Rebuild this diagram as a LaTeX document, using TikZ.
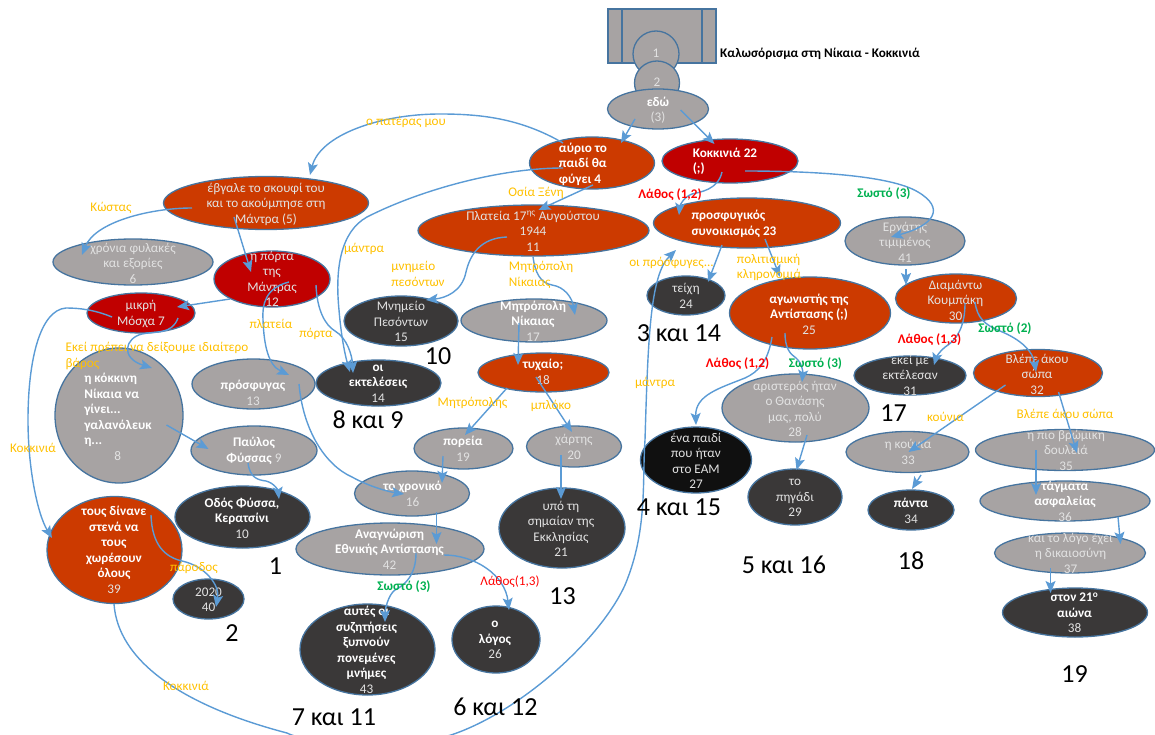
\documentclass[tikz,border=0pt]{standalone}
\usepackage{fontspec}
\setmainfont{Carlito}
\usetikzlibrary{shapes.geometric,arrows.meta,calc}
\definecolor{cOrange}{HTML}{CC3A00}
\definecolor{cRed}{HTML}{C00000}
\definecolor{cGrey}{HTML}{A7A3A3}
\definecolor{cDark}{HTML}{3A3838}
\definecolor{cBlack}{HTML}{101010}
\definecolor{cEdge}{HTML}{46749F}
\definecolor{cConn}{HTML}{5B9BD5}
\definecolor{cLabel}{HTML}{FFC000}
\definecolor{cGood}{HTML}{00B050}
\definecolor{cBad}{HTML}{FF0000}
\definecolor{cSoft}{HTML}{E2E2E2}
\newcommand\B[1]{{\bfseries\color{white}#1}}
\newcommand\ov[9]{%
  \node[oval,#6,minimum width=#4pt,minimum height=#5pt] (#1) at (#2,#3) {};
  \node[ovtext,tal] (#1t) at (#7,#8) {#9};}
\newcommand\ovl[9]{%
  \tikzset{tal/.style={align=left}}%
  \ov{#1}{#2}{#3}{#4}{#5}{#6}{#7}{#8}{#9}%
  \tikzset{tal/.style={align=center}}}
\newcommand\lab[4]{\node[lbl] (#1) at (#2,#3) {#4};}
\newcommand\labg[4]{\node[lbl,text=cGood,font=\fontsize{13.2}{15.5}\selectfont\bfseries] (#1) at (#2,#3) {#4};}
\newcommand\labr[4]{\node[lbl,text=cBad,font=\fontsize{13.2}{15.5}\selectfont\bfseries] (#1) at (#2,#3) {#4};}
\newcommand\bignr[4]{\node[bignum] (#1) at (#2,#3) {#4};}
\tikzset{
  oval/.style={shape=ellipse,draw=cEdge,line width=1.3pt,inner sep=0pt,outer sep=0pt},
  fGrey/.style={fill=cGrey},
  fOrange/.style={fill=cOrange},
  fRed/.style={fill=cRed},
  fDark/.style={fill=cDark},
  fBlack/.style={fill=cBlack},
  tal/.style={align=center},
  ovtext/.style={text=cSoft,font=\fontsize{13.2}{15.5}\selectfont,inner sep=0pt},
  lbl/.style={text=cLabel,font=\fontsize{13.2}{15.5}\selectfont,inner sep=0pt,align=left},
  bignum/.style={text=black,font=\fontsize{26}{30}\selectfont,inner sep=0pt},
  conn/.style={draw=cConn,line width=1.4pt,-{Stealth[length=12pt,width=10pt,inset=2.5pt]}},
}
\begin{document}
\begin{tikzpicture}[x=1pt,y=-1pt]
\useasboundingbox (0,0) rectangle (1155,735);
% top block
\node[draw=cEdge,line width=1.3pt,fill=cGrey,minimum width=108pt,minimum height=54pt,inner sep=0pt,outer sep=0pt] (n0) at (662,36) {};
\draw[draw=cEdge,line width=1.3pt] ($(n0.north west)+(14,0)$) -- ($(n0.south west)+(14,0)$);
\draw[draw=cEdge,line width=1.3pt] ($(n0.north east)+(-14,0)$) -- ($(n0.south east)+(-14,0)$);
\node[font=\fontsize{13.2}{15.5}\selectfont\bfseries,text=black,anchor=west,inner sep=0pt] (title) at (720,54) {Καλωσόρισμα στη Νίκαια - Κοκκινιά};
\ov{n1}{656}{54}{46}{46}{fGrey}{656}{53}{1}
\ov{n2}{657}{83}{45}{44}{fGrey}{657}{82}{2}
\ov{n3}{658}{109}{101}{40}{fGrey}{658}{110}{\B{εδώ}\\(3)}
% upper row
\ovl{n4}{592}{163}{125}{52}{fOrange}{583}{164}{\B{αύριο το}\\\B{παιδί θα}\\\B{φύγει 4}}
\ovl{n22}{730}{161}{136}{44}{fRed}{725}{161.5}{\B{Κοκκινιά 22}\\\B{(;)}}
\ov{n5}{266}{203}{205}{53}{fOrange}{266}{204}{έβγαλε το σκουφί του\\και το ακούμπησε στη\\Μάντρα (5)}
\ov{n11}{533.5}{230.5}{231}{51}{fOrange}{533}{231}{Πλατεία 17\textsuperscript{ης} Αυγούστου\\1944\\11}
\ovl{n23}{747}{223}{187}{50}{fOrange}{734}{224}{\B{προσφυγικός}\\\B{συνοικισμός 23}}
\ov{n41}{905}{241}{120}{48}{fGrey}{905}{242}{Εργάτης\\τιμιμένος\\41}
\ov{n6}{133}{262}{160}{46}{fGrey}{133}{263}{χρόνια φυλακές\\και εξορίες\\6}
\ov{n12}{272}{279}{116}{56}{fRed}{272}{279}{η πόρτα\\της\\Μάντρας\\12}
\ov{n7}{141}{313}{108}{40}{fRed}{141}{314}{μικρή\\Μόσχα 7}
\ov{n15}{401}{321}{114}{50}{fDark}{401}{321.5}{Μνημείο\\Πεσόντων\\15}
\ov{n17}{534}{320.5}{146}{43}{fGrey}{533}{321}{\B{Μητρόπολη}\\\B{Νίκαιας}\\17}
\ov{n24}{686}{295.5}{78}{39}{fDark}{686}{296}{τείχη\\24}
\ov{n25}{810}{313}{161}{72}{fOrange}{809}{314}{\B{αγωνιστής της}\\\B{Αντίστασης (;)}\\25}
\ov{n30}{956}{298.5}{121}{49}{fOrange}{955.5}{300}{Διαμάντω\\Κουμπάκη\\30}
% middle
\ovl{n8}{119}{415.5}{128}{135}{fGrey}{118}{417}{\B{η κόκκινη}\\\B{Νίκαια να}\\\B{γίνει...}\\\B{γαλανόλευκ}\\\B{η...}\\\hspace*{30pt}8}
\ov{n13}{253.5}{384}{123}{50}{fGrey}{253}{393}{\B{πρόσφυγας}\\13}
\ov{n14}{378.5}{383}{125}{46}{fDark}{378}{383.5}{\B{οι}\\\B{εκτελέσεις}\\14}
\ov{n18}{543.5}{372.5}{131}{39}{fOrange}{543}{372}{\B{τυχαίο;}\\18}
\ov{n31}{910}{375.5}{112}{39}{fDark}{910}{375}{εκεί με\\εκτέλεσαν\\31}
\ov{n32}{1038}{373}{129}{47}{fOrange}{1037}{374}{Βλέπε άκου\\σώπα\\32}
\ov{n28}{795.5}{408}{147}{68}{fGrey}{795}{409}{αριστερός ήταν\\ο Θανάσης\\μας, πολύ\\28}
\ov{n19}{463.5}{448.5}{99}{41}{fGrey}{463}{449}{\B{πορεία}\\19}
\ov{n20}{574}{446.5}{95}{41}{fGrey}{574}{447}{χάρτης\\20}
\ov{n9}{254}{450.5}{126}{49}{fGrey}{254}{451}{\B{Παύλος}\\\B{Φύσσας} 9}
\ov{n33}{907.5}{452}{123}{41}{fGrey}{908}{452}{η κούνια\\33}
\ov{n35}{1065}{450}{179}{41}{fGrey}{1066}{450}{η πιο βρώμικη\\δουλειά\\35}
\ov{n27}{696}{460}{111}{66}{fBlack}{696}{461}{ένα παιδί\\που ήταν\\στο ΕΑΜ\\27}
\ov{n16}{412}{493.5}{115}{45}{fGrey}{412.5}{494}{\B{το χρονικό}\\16}
\ov{n29}{795}{497}{94}{56}{fDark}{795}{498}{το\\πηγάδι\\29}
\ov{n36}{1065}{501}{170}{40}{fGrey}{1065}{501}{\B{τάγματα}\\\B{ασφαλείας}\\36}
\ov{n34}{911}{510}{86}{40}{fDark}{911}{511}{\B{πάντα}\\34}
\ov{n10}{242.5}{517}{135}{62}{fDark}{242}{518}{\B{Οδός Φύσσα,}\\\B{Κερατσίνι}\\10}
\ov{n21}{562}{528}{126}{80}{fDark}{561}{529}{υπό τη\\σημαίαν της\\Εκκλησίας\\21}
\ov{n42}{390}{549}{188}{52}{fGrey}{389.5}{549}{\B{Αναγνώριση}\\\B{Εθνικής Αντίστασης}\\42}
\ov{n39}{114.5}{550}{135}{107}{fOrange}{114}{550}{\B{τους δίνανε}\\\B{στενά να}\\\B{τους}\\\B{χωρέσουν}\\\B{όλους}\\39}
\ov{n37}{1070}{553}{151}{40}{fGrey}{1070.5}{553}{και το λόγο έχει\\η δικαιοσύνη\\37}
\ov{n40}{208.5}{599}{71}{40}{fDark}{208.5}{600}{2020\\40}
\ov{n38}{1075}{612.5}{145}{49}{fDark}{1074.5}{613}{\B{στον 21\textsuperscript{ο}}\\\B{αιώνα}\\38}
\ov{n26}{496}{639.5}{88}{67}{fDark}{495}{640}{\B{ο}\\\B{λόγος}\\26}
\ov{n43}{367.5}{649.5}{135}{91}{fDark}{366.5}{650}{\B{αυτές οι}\\\B{συζητήσεις}\\\B{ξυπνούν}\\\B{πονεμένες}\\\B{μνήμες}\\43}
% connectors
\draw[conn] ($(n3)+(-23,10)$) -- ($(n4)+(29,-20)$);
\draw[conn] ($(n3)+(22.5,1)$) -- ($(n22)+(-15.5,-17)$);
\draw[conn] ($(n4)+(-29,-20)$) .. controls (520,118) and (480,114) .. (440,114) .. controls (380,114) and (320,135) .. ($(n5)+(44,-28)$);
\draw[conn] ($(n4)+(-29,5)$) .. controls (500,168) and (420,190) .. (367,217) .. controls (340,232) and (335,270) .. (339,310) .. controls (341,335) and (345,355) .. ($(n14)+(-28.5,-11)$);
\draw[conn] ($(n22)+(-8,11)$) .. controls (718,190) and (700,192) .. (692,194) .. controls (684,197) and (680,205) .. ($(n23)+(-68,-8)$);
\draw[conn] ($(n22)+(15,10)$) .. controls (810,171) and (890,175) .. (918,192) .. controls (945,208) and (935,225) .. ($(n41)+(-14,-4)$);
\draw[conn] ($(n4)+(1,22)$) -- ($(n11)+(5,-20.5)$);
\draw[conn] ($(n11)+(-26.5,6.5)$) .. controls (480,238) and (470,255) .. (466,272) .. controls (462,292) and (445,298) .. ($(n15)+(25,-21)$);
\draw[conn] ($(n11)+(-.5,26.5)$) .. controls (535,272) and (540,283) .. (552,285) .. controls (565,287) and (572,298) .. ($(n17)+(41,-5.5)$);
\draw[conn] ($(n23)+(-25,22)$) -- ($(n24)+(22,-13.5)$);
\draw[conn] ($(n23)+(18,16)$) -- ($(n25)+(-30,-36)$);
\draw[conn] ($(n41)+(1,28)$) -- ($(n30)+(-50,-13.5)$);
\draw[conn] ($(n30)+(9,4.5)$) .. controls (965,325) and (958,338) .. (948,345) .. controls (940,350) and (936,358) .. ($(n31)+(24,-10.5)$);
\draw[conn] ($(n30)+(19,3.5)$) .. controls (977,318) and (985,325) .. (1000,331) .. controls (1022,340) and (1033,352) .. ($(n32)+(-2,-1)$);
\draw[conn] ($(n25)+(-38,24)$) .. controls (768,362) and (758,372) .. (745,378) .. controls (720,388) and (695,395) .. ($(n27)+(0,-35)$);
\draw[conn] ($(n25)+(-25,20)$) .. controls (785,348) and (790,354) .. (796,358) .. controls (802,363) and (803,372) .. ($(n28)+(6.5,-26)$);
\draw[conn] ($(n28)+(11.5,27)$) -- ($(n29)+(1.5,-27)$);
\draw[conn] ($(n32)+(-32.5,12)$) -- ($(n33)+(1,0)$);
\draw[conn] ($(n32)+(20.5,19)$) -- ($(n35)+(12,3)$);
\draw[conn] ($(n33)+(13.5,23)$) -- ($(n34)+(1,-21)$);
\draw[conn] ($(n35)+(-29,0)$) -- ($(n36)+(-29,-6)$);
\draw[conn] ($(n36)+(53,16)$) -- ($(n37)+(50.5,-9)$);
\draw[conn] ($(n37)+(-19.5,15)$) -- ($(n38)+(-24.5,-19.5)$);
\draw[conn] ($(n39)+(-.5,54)$) .. controls (118,660) and (180,705) .. (287,733) .. controls (310,745) and (400,750) .. (451,735) .. controls (520,712) and (600,640) .. (625,585) .. controls (648,530) and (642,480) .. (645,440) .. controls (648,340) and (650,275) .. ($(n23)+(-71,27)$);
\draw[conn] ($(n5)+(-74,5)$) .. controls (150,208) and (95,222) .. ($(n6)+(-51,-7)$);
\draw[conn] ($(n5)+(-32,14)$) -- ($(n12)+(-21,-7)$);
\draw[conn] ($(n12)+(-42,20)$) -- ($(n7)+(36,-6)$);
\draw[conn] ($(n12)+(17,3)$) .. controls (265,288) and (262,305) .. (263,320) .. controls (264,345) and (268,365) .. ($(n13)+(35.5,-9)$);
\draw[conn] ($(n12)+(44,6)$) .. controls (317,310) and (325,325) .. (335,331) .. controls (347,338) and (352,355) .. ($(n14)+(-25.5,-10)$);
\draw[conn] ($(n7)+(-29,4)$) .. controls (95,310) and (80,308) .. (66,308) .. controls (40,310) and (28,360) .. (28,420) .. controls (28,470) and (38,515) .. ($(n39)+(-62.5,-12)$);
\draw[conn] ($(n7)+(37,5)$) .. controls (172,335) and (155,331) .. (142,334) .. controls (125,338) and (120,358) .. ($(n8)+(33,-47.5)$);
\draw[conn] ($(n8)+(47.5,9.5)$) -- ($(n9)+(-45.5,-1.5)$);
\draw[conn] ($(n9)+(-6,12.5)$) .. controls (250,478) and (258,480) .. (266,481) .. controls (274,483) and (278,490) .. ($(n10)+(36.5,-18)$);
\draw[conn] ($(n13)+(45.5,0)$) .. controls (303,430) and (325,465) .. (352,477) .. controls (370,487) and (390,492) .. ($(n16)+(-8,.5)$);
\draw[conn] ($(n19)+(-20.5,7.5)$) -- ($(n16)+(30,-10.5)$);
\draw[conn] ($(n16)+(24.5,18.5)$) -- ($(n42)+(46.5,-5)$);
\draw[conn] ($(n17)+(-15,2.5)$) -- ($(n18)+(-25.5,-7.5)$);
\draw[conn] ($(n18)+(-36.5,15.5)$) -- ($(n19)+(1.5,-13.5)$);
\draw[conn] ($(n18)+(-7.5,4.5)$) -- ($(n20)+(-2,-14.5)$);
\draw[conn] ($(n20)+(-13,8.5)$) -- ($(n21)+(-1,-29)$);
\draw[conn] ($(n42)+(26,4)$) .. controls (416,575) and (405,585) .. (395,590) .. controls (388,595) and (385,610) .. ($(n43)+(17.5,-27.5)$);
\draw[conn] ($(n42)+(54,6)$) .. controls (475,555) and (505,575) .. ($(n26)+(13,-29.5)$);
\draw[conn] ($(n39)+(36.5,-35)$) .. controls (152,545) and (165,557) .. (182,561) .. controls (205,566) and (220,585) .. ($(n40)+(7.5,8)$);
% connector labels
\lab{l1}{406}{122}{ο πατέρας μου}
\lab{l2}{111}{208}{Κώστας}
\lab{l3}{364}{249}{μάντρα}
\lab{l4}{418}{274}{μνημείο\\πεσόντων}
\lab{l5}{271}{324}{πλατεία}
\lab{l6}{316}{334}{πόρτα}
\lab{l7}{157}{356}{Εκεί πρέπει να δείξουμε ιδιαίτερο\\βάρος}
\lab{l8}{33}{448}{Κοκκινιά}
\lab{l9}{194}{568}{πάροδος}
\lab{l10}{186}{686}{Κοκκινιά}
\lab{l11}{536}{193}{Οσία Ξένη}
\lab{l12}{541}{275}{Μητρόπολη\\Νίκαιας}
\lab{l13}{671.5}{263}{οι πρόσφυγες...}
\lab{l14}{769}{267.5}{πολιτισμική\\κληρονομιά}
\lab{l15}{655}{383}{μάντρα}
\lab{l16}{945.5}{417}{κούνια}
\lab{l17}{1065}{414}{Βλέπε άκου σώπα}
\lab{l18}{472.5}{403}{Μητρόπολης}
\lab{l19}{551}{406}{μπλόκο}
\labg{g1}{404}{587}{Σωστό (3)}
\labg{g2}{884}{194}{Σωστό (3)}
\labg{g3}{1005}{329}{Σωστό (2)}
\labg{g4}{815.5}{364}{Σωστό (3)}
\labr{r1}{670}{195}{Λάθος (1,2)}
\labr{r2}{929.5}{340}{Λάθος (1,3)}
\labr{r3}{737.5}{364}{Λάθος (1,2)}
\node[lbl,text=cBad] (r4) at (510,582) {Λάθος(1,3)};
% large numbers
\bignr{b1}{275.5}{566}{1}
\bignr{b2}{232}{633}{2}
\bignr{b3}{334}{717}{7 και 11}
\bignr{b4}{495.5}{707}{6 και 12}
\bignr{b5}{562.5}{596}{13}
\bignr{b6}{368}{420}{8 και 9}
\bignr{b7}{438}{356}{10}
\bignr{b8}{679}{333}{3 και 14}
\bignr{b9}{679}{507}{4 και 15}
\bignr{b10}{784}{565}{5 και 16}
\bignr{b11}{893.5}{413}{17}
\bignr{b12}{911}{561}{18}
\bignr{b13}{1074.5}{674}{19}
\end{tikzpicture}
\end{document}
